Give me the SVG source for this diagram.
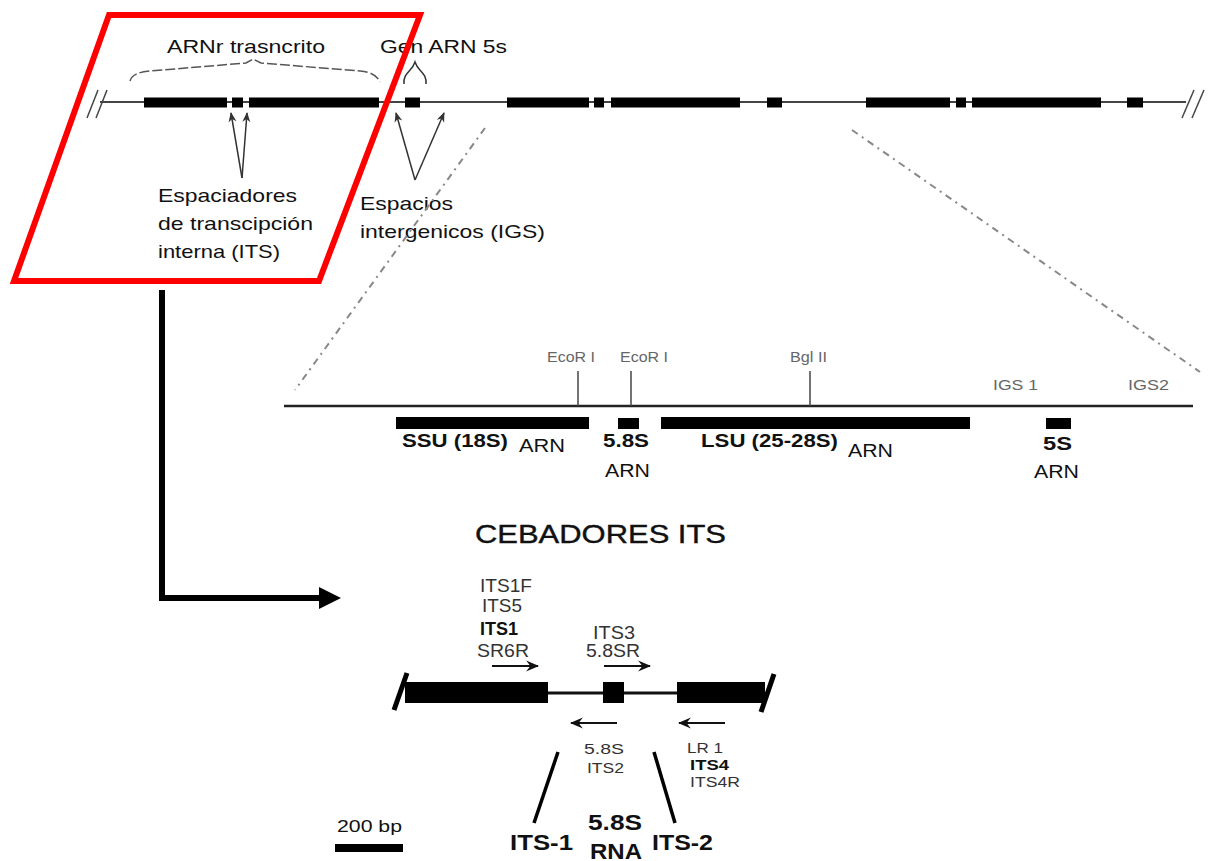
<svg xmlns="http://www.w3.org/2000/svg" width="1213" height="861" viewBox="0 0 1213 861">
<style>
text{font-family:"Liberation Sans",Arial,sans-serif;fill:#111}
.t19{font-size:19px}
.sm{font-size:15px;fill:#666}
.pr{font-size:18px;fill:#333}
.pb{font-size:18px;font-weight:bold;fill:#111}
.lb{font-size:18px;font-weight:bold}
.ln{font-size:18px}
.s15{font-size:15px}
.big{font-size:22px;font-weight:bold}
.blk{fill:#000}
.thin{stroke:#333;stroke-width:1.5;fill:none}
.zoomline{stroke:#888;stroke-width:2;fill:none;stroke-dasharray:7 5 2 5}
</style>
<defs>
<marker id="ah" viewBox="0 0 10 10" refX="9" refY="5" markerWidth="10" markerHeight="10" markerUnits="userSpaceOnUse" orient="auto">
<path d="M0,1 L10,5 L0,9 L3,5 z" fill="#333"/>
</marker>
<marker id="bh" viewBox="0 0 12 12" refX="11" refY="6" markerWidth="13" markerHeight="13" markerUnits="userSpaceOnUse" orient="auto">
<path d="M0,1 L12,6 L0,11 L4,6 z" fill="#111"/>
</marker>
</defs>
<rect width="1213" height="861" fill="#fff"/>

<g id="top-line">
<line x1="100" y1="102" x2="1186" y2="102" stroke="#444" stroke-width="2"/>
<line x1="87" y1="118" x2="98" y2="90" stroke="#444" stroke-width="1.5"/>
<line x1="96" y1="118" x2="107" y2="90" stroke="#444" stroke-width="1.5"/>
<line x1="1182" y1="118" x2="1194" y2="90" stroke="#444" stroke-width="1.5"/>
<line x1="1192" y1="118" x2="1204" y2="90" stroke="#444" stroke-width="1.5"/>
<g class="blk">
<rect x="144" y="97.5" width="83" height="10"/>
<rect x="232" y="97.5" width="11" height="10"/>
<rect x="249" y="97.5" width="130" height="10"/>
<rect x="405" y="97.5" width="15" height="10"/>
<rect x="507" y="97.5" width="82" height="10"/>
<rect x="594" y="97.5" width="10" height="10"/>
<rect x="611" y="97.5" width="129" height="10"/>
<rect x="767" y="97.5" width="15" height="10"/>
<rect x="866" y="97.5" width="84" height="10"/>
<rect x="956" y="97.5" width="10" height="10"/>
<rect x="972" y="97.5" width="129" height="10"/>
<rect x="1127" y="97.5" width="16" height="10"/>
</g>
</g>

<g id="arnr-transcrito">
<path d="M130,81 C132,74 140,72 150,71 L246,63 L253,59 L261,63 L360,71 C370,72 377,75 380,82" stroke="#555" stroke-width="1.5" fill="none" stroke-dasharray="10 3"/>
<text class="t19" x="167" y="53" textLength="158" lengthAdjust="spacingAndGlyphs">ARNr trasncrito</text>
</g>

<g id="gen-arn-5s">
<path d="M404,84 C403,72 412,72 415,62 C418,72 427,72 426,84" stroke="#333" stroke-width="1.5" fill="none"/>
<text class="t19" x="380" y="53" textLength="127" lengthAdjust="spacingAndGlyphs">Gen ARN 5s</text>
</g>

<g id="its-label">
<line class="thin" x1="242" y1="178" x2="231" y2="113" marker-end="url(#ah)"/>
<line class="thin" x1="242" y1="178" x2="247" y2="113" marker-end="url(#ah)"/>
<text class="t19" x="158" y="202" textLength="139" lengthAdjust="spacingAndGlyphs">Espaciadores</text>
<text class="t19" x="158" y="230" textLength="155" lengthAdjust="spacingAndGlyphs">de transcipción</text>
<text class="t19" x="158" y="258" textLength="122" lengthAdjust="spacingAndGlyphs">interna (ITS)</text>
</g>

<g id="igs-label">
<line class="thin" x1="415" y1="180" x2="396" y2="113" marker-end="url(#ah)"/>
<line class="thin" x1="415" y1="180" x2="444" y2="113" marker-end="url(#ah)"/>
<text class="t19" x="360" y="210" textLength="93" lengthAdjust="spacingAndGlyphs">Espacios</text>
<text class="t19" x="360" y="238" textLength="185" lengthAdjust="spacingAndGlyphs">intergenicos (IGS)</text>
</g>

<g id="highlight">
<polygon points="109,15 420,15 319,281 14,281" fill="none" stroke="#ff0000" stroke-width="6" stroke-linejoin="miter"/>
</g>

<g id="rdna-unit">
<line x1="284" y1="406" x2="1193" y2="406" stroke="#222" stroke-width="2.5"/>
<line x1="578" y1="371" x2="578" y2="406" stroke="#444" stroke-width="1.5"/>
<line x1="631" y1="371" x2="631" y2="406" stroke="#444" stroke-width="1.5"/>
<line x1="810" y1="371" x2="810" y2="406" stroke="#444" stroke-width="1.5"/>
<text class="sm" x="547" y="362" textLength="48" lengthAdjust="spacingAndGlyphs">EcoR I</text>
<text class="sm" x="620" y="362" textLength="48" lengthAdjust="spacingAndGlyphs">EcoR I</text>
<text class="sm" x="790" y="362" textLength="37" lengthAdjust="spacingAndGlyphs">Bgl II</text>
<text class="sm" x="993" y="390" textLength="45" lengthAdjust="spacingAndGlyphs">IGS 1</text>
<text class="sm" x="1128" y="390" textLength="41" lengthAdjust="spacingAndGlyphs">IGS2</text>
</g>
<g id="ssu">
<rect class="blk" x="396" y="417" width="193" height="12"/>
<text class="lb" x="402" y="447" textLength="106" lengthAdjust="spacingAndGlyphs">SSU (18S)</text>
<text class="ln" x="519" y="452" textLength="46" lengthAdjust="spacingAndGlyphs">ARN</text>
</g>
<g id="s58">
<rect class="blk" x="618" y="418" width="21" height="11"/>
<text class="lb" x="603" y="447" textLength="46" lengthAdjust="spacingAndGlyphs">5.8S</text>
<text class="ln" x="605" y="477" textLength="45" lengthAdjust="spacingAndGlyphs">ARN</text>
</g>
<g id="lsu">
<rect class="blk" x="661" y="417" width="309" height="12"/>
<text class="lb" x="701" y="447" textLength="137" lengthAdjust="spacingAndGlyphs">LSU (25-28S)</text>
<text class="ln" x="848" y="457" textLength="45" lengthAdjust="spacingAndGlyphs">ARN</text>
</g>
<g id="s5">
<rect class="blk" x="1046" y="418" width="25" height="11"/>
<text class="lb" x="1043" y="450" textLength="29" lengthAdjust="spacingAndGlyphs">5S</text>
<text class="ln" x="1034" y="478" textLength="45" lengthAdjust="spacingAndGlyphs">ARN</text>
</g>

<g id="connectors">
<line class="zoomline" x1="485" y1="128" x2="295" y2="390"/>
<line class="zoomline" x1="852" y1="130" x2="1200" y2="372"/>
<polyline points="162,290 162,598 320,598" fill="none" stroke="#000" stroke-width="6"/>
<polygon points="319,587 341,598 319,609" fill="#000"/>
</g>

<g id="title">
<text x="475" y="543" font-size="25" stroke="#111" stroke-width="0.4" textLength="251" lengthAdjust="spacingAndGlyphs">CEBADORES ITS</text>
</g>

<g id="its-region">
<line x1="548" y1="693" x2="677" y2="693" stroke="#111" stroke-width="3"/>
<rect class="blk" x="405" y="682" width="143" height="21"/>
<rect class="blk" x="603" y="682" width="21" height="21"/>
<rect class="blk" x="677" y="682" width="88" height="21"/>
<line x1="394" y1="710" x2="407" y2="673" stroke="#000" stroke-width="5"/>
<line x1="761" y1="712" x2="774" y2="674" stroke="#000" stroke-width="5"/>
</g>

<g id="forward-primers">
<line x1="492" y1="666" x2="538" y2="666" stroke="#111" stroke-width="1.8" marker-end="url(#bh)"/>
<line x1="604" y1="666" x2="650" y2="666" stroke="#111" stroke-width="1.8" marker-end="url(#bh)"/>
<text class="pr" x="480" y="592" textLength="52" lengthAdjust="spacingAndGlyphs">ITS1F</text>
<text class="pr" x="482" y="612" textLength="40" lengthAdjust="spacingAndGlyphs">ITS5</text>
<text class="pb" x="480" y="635" textLength="38" lengthAdjust="spacingAndGlyphs">ITS1</text>
<text class="pr" x="477" y="657" textLength="52" lengthAdjust="spacingAndGlyphs">SR6R</text>
<text class="pr" x="593" y="639" textLength="42" lengthAdjust="spacingAndGlyphs">ITS3</text>
<text class="pr" x="586" y="657" textLength="54" lengthAdjust="spacingAndGlyphs">5.8SR</text>
</g>

<g id="reverse-primers">
<line x1="617" y1="723" x2="571" y2="723" stroke="#111" stroke-width="1.8" marker-end="url(#bh)"/>
<line x1="725" y1="723" x2="679" y2="723" stroke="#111" stroke-width="1.8" marker-end="url(#bh)"/>
<text class="pr s15" x="584" y="754" textLength="40" lengthAdjust="spacingAndGlyphs">5.8S</text>
<text class="pr s15" x="587" y="773" textLength="37" lengthAdjust="spacingAndGlyphs">ITS2</text>
<text class="pr s15" x="687" y="753" textLength="36" lengthAdjust="spacingAndGlyphs">LR 1</text>
<text class="pb s15" x="690" y="770" textLength="39" lengthAdjust="spacingAndGlyphs">ITS4</text>
<text class="pr s15" x="690" y="787" textLength="50" lengthAdjust="spacingAndGlyphs">ITS4R</text>
</g>

<g id="its-labels">
<line x1="558" y1="752" x2="534" y2="823" stroke="#000" stroke-width="3.5"/>
<line x1="654" y1="752" x2="675" y2="823" stroke="#000" stroke-width="3.5"/>
<text class="big" x="510" y="850" textLength="63" lengthAdjust="spacingAndGlyphs">ITS-1</text>
<text class="big" x="588" y="830" textLength="54" lengthAdjust="spacingAndGlyphs">5.8S</text>
<text class="big" x="590" y="859" textLength="52" lengthAdjust="spacingAndGlyphs">RNA</text>
<text class="big" x="652" y="850" textLength="61" lengthAdjust="spacingAndGlyphs">ITS-2</text>
</g>

<g id="scale-bar">
<text x="337" y="832" font-size="17" textLength="65" lengthAdjust="spacingAndGlyphs">200 bp</text>
<rect class="blk" x="335" y="844" width="68" height="8"/>
</g>
</svg>
